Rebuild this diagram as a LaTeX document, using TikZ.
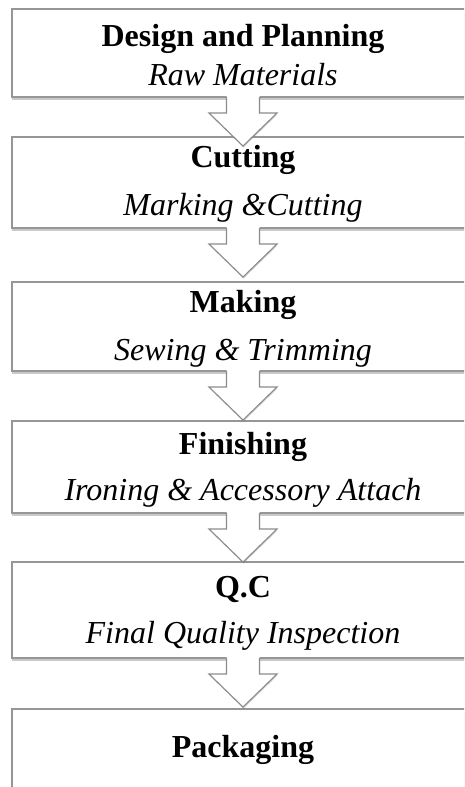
\documentclass[tikz,border=0pt]{standalone}
\usepackage{fontspec}
\setmainfont{Liberation Serif}
\usetikzlibrary{calc,shadows}
\definecolor{boxline}{RGB}{150,150,150}
\definecolor{arrline}{RGB}{140,140,140}
\begin{document}
\begin{tikzpicture}[x=1pt,y=1pt,
  box/.style={draw=boxline, line width=1.4pt, fill=white, minimum width=462pt, inner sep=0pt, outer sep=0pt,
    drop shadow={shadow xshift=-0.5pt, shadow yshift=-2.5pt, opacity=0.35, fill=black!60}},
  titletext/.style={anchor=base, font=\fontsize{32}{38}\selectfont\bfseries, inner sep=0pt},
  subtext/.style={anchor=base, font=\fontsize{32}{38}\selectfont\itshape, inner sep=0pt},
  arrfill/.style={fill=white, drop shadow={shadow xshift=0.5pt, shadow yshift=-1.5pt, opacity=0.3, fill=black!60}},
  arrdraw/.style={draw=arrline, line width=1.1pt, line join=miter}
]
\useasboundingbox (0,0) rectangle (464,-787);
\fill[white] (0,0) rectangle (464,-787);
\begin{scope}
\clip (0,0) rectangle (464,-787);
\node[box, minimum height=88pt] (b1) at (243,-53) {};
\node[box, minimum height=91pt] (b2) at (243,-182.5) {};
\node[box, minimum height=89pt] (b3) at (243,-326.5) {};
\node[box, minimum height=92pt] (b4) at (243,-467) {};
\node[box, minimum height=96pt] (b5) at (243,-610) {};
\node[box, minimum height=100pt] (b6) at (243,-759) {};

\foreach \a/\b in {b1/b2,b2/b3,b3/b4,b4/b5,b5/b6}{
  \path[arrfill] ($(\a.south)+(-16.5,1.2)$) -- ($(\a.south)+(-16.5,-16)$) -- ($(\a.south)+(-34,-16)$)
     -- ($(\a.south)+(0,-49)$) -- ($(\a.south)+(34,-16)$) -- ($(\a.south)+(16.5,-16)$) -- ($(\a.south)+(16.5,1.2)$) -- cycle;
  \draw[arrdraw] ($(\a.south)+(-16.5,0)$) -- ($(\a.south)+(-16.5,-16)$) -- ($(\a.south)+(-34,-16)$)
     -- ($(\a.south)+(0,-49)$) -- ($(\a.south)+(34,-16)$) -- ($(\a.south)+(16.5,-16)$) -- ($(\a.south)+(16.5,0)$);
}
\end{scope}

\node[titletext] (t1) at (243,-46) {Design and Planning};
\node[subtext] (s1) at (243,-85) {Raw Materials};
\node[titletext] (t2) at (243,-167) {Cutting};
\node[subtext] (s2) at (243,-215) {Marking \&Cutting};
\node[titletext] (t3) at (243,-312) {Making};
\node[subtext] (s3) at (243,-360) {Sewing \& Trimming};
\node[titletext] (t4) at (243,-454) {Finishing};
\node[subtext] (s4) at (243,-500) {Ironing \& Accessory Attach};
\node[titletext] (t5) at (243,-597) {Q.C};
\node[subtext] (s5) at (243,-643) {Final Quality Inspection};
\node[titletext] (t6) at (243,-757) {Packaging};
\end{tikzpicture}
\end{document}
